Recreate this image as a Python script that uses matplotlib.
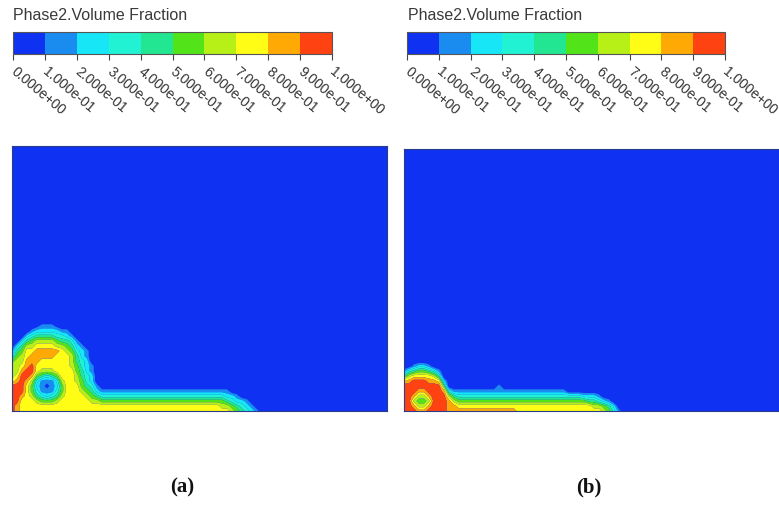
import numpy as np
import matplotlib
matplotlib.use("Agg")
import matplotlib.pyplot as plt
from matplotlib.colors import ListedColormap, BoundaryNorm
from matplotlib.cm import ScalarMappable

# ---------------- data ----------------
title = "Phase2.Volume Fraction"
levels = [0.0, 0.1, 0.2, 0.3, 0.4, 0.5, 0.6, 0.7, 0.8, 0.9, 1.0]
tick_labels = ["0.000e+00", "1.000e-01", "2.000e-01", "3.000e-01", "4.000e-01",
               "5.000e-01", "6.000e-01", "7.000e-01", "8.000e-01", "9.000e-01",
               "1.000e+00"]
band_colors = ["#0f31f2", "#1a8cf0", "#16e6f6", "#22f2d4", "#22e692",
               "#52e418", "#b6f016", "#fffc16", "#ffaa04", "#ff4212"]
panel_labels = ["(a)", "(b)"]

# field sampling nodes (domain units, origin at bottom-left of each domain)
grid_x = np.arange(0, 261, 5)   # 53 columns
grid_y = np.arange(95, -1, -5)  # 20 rows, listed top -> bottom

# band code per node: '.' = 0, digit d = middle of band d ((d+0.5)/10)
field_a_rows = [
    "." * 53,                                              # Y95
    "." * 53,                                              # Y90
    "....." + "01110" + "." * 43,                          # Y85
    "....1" + "22222" + "11" + "." * 41,                   # Y80
    "...2344443321" + "." * 40,                            # Y75
    "..245666654431" + "." * 39,                           # Y70
    ".24667777665421" + "." * 38,                          # Y65
    "1457788888765321" + "." * 37,                         # Y60
    "3567888887776421" + "." * 37,                         # Y55
    "5668887777776432" + "." * 37,                         # Y50
    "66789777777765321" + "." * 36,                        # Y45
    "66899766677775421" + "." * 36,                        # Y40
    "67998543457776432" + "." * 36,                        # Y35
    "78986311136776532" + "." * 36,                        # Y30
    "999752101257775431" + "." * 35,                       # Y25
    "9997531113577765421" + "1" * 25 + "." * 9,            # Y20
    "9987643234677776543" + "3" * 24 + "221" + "." * 7,    # Y15
    "9977765556777777665" + "5" * 24 + "43221" + "." * 5,  # Y10
    "98" + "7" * 40 + "6654321" + "." * 4,                 # Y5
    "98" + "7" * 42 + "654321" + "." * 3,                  # Y0
]

field_b_rows = [
    "." * 53,                                              # Y95
    "." * 53,                                              # Y90
    "." * 53,                                              # Y85
    "." * 53,                                              # Y80
    "." * 53,                                              # Y75
    "." * 53,                                              # Y70
    "." * 53,                                              # Y65
    "." * 53,                                              # Y60
    "." * 53,                                              # Y55
    "." * 53,                                              # Y50
    "..1221" + "." * 47,                                   # Y45
    "13455431" + "." * 45,                                 # Y40
    "46777764" + "." * 45,                                 # Y35
    "889998872" + "." * 44,                                # Y30
    "999999995" + "." * 10 + "1" + "." * 33,               # Y25
    "999889998" + "3" + "1" * 23 + "." * 20,               # Y20
    "998668999" + "64" + "3" * 25 + "2221" + "." * 13,     # Y15
    "996556999" + "86" + "5" * 26 + "44321" + "." * 11,    # Y10
    "998668999" + "88" + "7" * 27 + "66542" + "." * 10,    # Y5
    "999889999" + "8" * 14 + "7" * 17 + "6531" + "." * 9,  # Y0
]

domain_size = [(375, 265), (375, 262)]


def decode(rows):
    z = np.array([[0.0 if c == "." else (int(c) + 0.5) / 10.0 for c in r] for r in rows])
    return z[::-1]  # bottom -> top


# ---------------- figure ----------------
W, H = 779, 506
fig = plt.figure(figsize=(W / 100, H / 100), dpi=100)
fig.patch.set_facecolor("white")


def ax_px(l, t, r, b):
    return fig.add_axes([l / W, 1 - b / H, (r - l) / W, (b - t) / H])


cmap = ListedColormap(band_colors)

panels = [
    dict(rows=field_a_rows, box=(12, 147, 387, 412), cbar=(13, 33, 332, 55),
         title_x=13, label_x=182),
    dict(rows=field_b_rows, box=(404, 150, 779, 412), cbar=(407, 33, 725, 55),
         title_x=408, label_x=589),
]

gy_sorted = grid_y[::-1]
for p, lab, (dw, dh) in zip(panels, panel_labels, domain_size):
    norm = BoundaryNorm(levels, cmap.N)
    ax = ax_px(*p["box"])
    ax.set_facecolor(band_colors[0])
    z = decode(p["rows"])
    assert z.shape == (len(grid_y), len(grid_x)), z.shape
    ax.contourf(grid_x, gy_sorted, z, levels=levels, cmap=cmap, norm=norm,
                antialiased=True)
    ax.set_xlim(0, dw)
    ax.set_ylim(0, dh)
    ax.set_xticks([])
    ax.set_yticks([])
    for s in ax.spines.values():
        s.set_color("#2b3c8c")
        s.set_linewidth(0.8)

    cax = ax_px(*p["cbar"])
    cb = fig.colorbar(ScalarMappable(norm=BoundaryNorm(levels, cmap.N), cmap=cmap),
                      cax=cax, orientation="horizontal")
    cb.outline.set_edgecolor("#555555")
    cb.outline.set_linewidth(0.8)
    cax.set_xticks(levels)
    cax.set_xticklabels(tick_labels, rotation=-40, rotation_mode="anchor",
                        ha="left", va="center", family="Liberation Sans",
                        fontsize=10, color="#333333")
    cax.tick_params(axis="x", direction="out", length=4, width=0.8,
                    color="#444444", pad=7)

    fig.text(p["title_x"] / W, 1 - 15 / H, title, ha="left", va="center",
             fontsize=11.5, color="#3a3a3a", family="Liberation Sans")
    fig.text(p["label_x"] / W, 1 - 487 / H, lab, ha="center", va="center",
             fontsize=15, fontweight="bold", family="Liberation Serif",
             color="#111111")

fig.savefig("out.png", dpi=100, facecolor="white")
